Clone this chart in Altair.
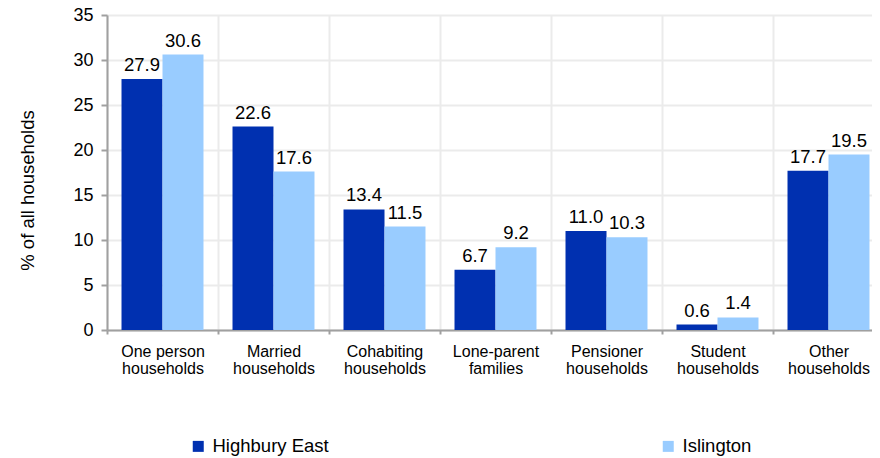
import altair as alt
import pandas as pd

categories = [
    "One person households",
    "Married households",
    "Cohabiting households",
    "Lone-parent families",
    "Pensioner households",
    "Student households",
    "Other households",
]
areas = ["Highbury East", "Islington"]
highbury_east = [27.9, 22.6, 13.4, 6.7, 11.0, 0.6, 17.7]
islington = [30.6, 17.6, 11.5, 9.2, 10.3, 1.4, 19.5]
y_ticks = [0, 5, 10, 15, 20, 25, 30, 35]

rows = []
for c, a, b in zip(categories, highbury_east, islington):
    rows.append({"category": c, "area": areas[0], "value": a})
    rows.append({"category": c, "area": areas[1], "value": b})
df = pd.DataFrame(rows)

FONT = "Liberation Sans, Arial, sans-serif"
DARK = "#0030B0"
LIGHT = "#99CCFF"

label_expr = (
    "[substring(datum.label, 0, lastindexof(datum.label, ' ')), "
    "substring(datum.label, lastindexof(datum.label, ' ') + 1)]"
)

x_enc = alt.X(
    "category:N",
    sort=categories,
    scale=alt.Scale(paddingInner=0, paddingOuter=0),
    axis=alt.Axis(
        title=None,
        labelAngle=0,
        labelExpr=label_expr,
        labelFontSize=16,
        labelLineHeight=17,
        labelPadding=9,
        labelColor="black",
        labelFont=FONT,
        labelLimit=300,
        tickBand="extent",
        tickSize=4,
        tickColor="#A0A0A0",
        tickWidth=2,
        domainColor="#A0A0A0",
        domainWidth=2,
        grid=True,
        gridColor="#EBEBEB",
        gridWidth=2,
    ),
)
xoff_enc = alt.XOffset(
    "area:N",
    sort=areas,
    scale=alt.Scale(paddingInner=0, paddingOuter=0.354),
)
y_enc = alt.Y(
    "value:Q",
    scale=alt.Scale(domain=[0, 35], nice=False),
    axis=alt.Axis(
        values=y_ticks,
        title="% of all households",
        titleFont=FONT,
        titleFontSize=18.5,
        titleFontWeight="normal",
        titleColor="black",
        titleX=-74,
        titleY=175,
        titleAngle=-90,
        titleBaseline="alphabetic",
        titleAlign="center",
        labelFontSize=18,
        labelFont=FONT,
        labelColor="black",
        labelPadding=8,
        tickSize=6,
        tickColor="#A0A0A0",
        tickWidth=2,
        domainColor="#A0A0A0",
        domainWidth=2,
        grid=True,
        gridColor="#EBEBEB",
        gridWidth=2,
    ),
)

base = alt.Chart(df).encode(x=x_enc, xOffset=xoff_enc, y=y_enc)

bars = base.mark_bar().encode(
    color=alt.Color(
        "area:N",
        scale=alt.Scale(domain=areas, range=[DARK, LIGHT]),
        legend=alt.Legend(
            title=None,
            orient="none",
            legendX=82,
            legendY=422,
            direction="horizontal",
            columns=2,
            columnPadding=330,
            symbolType="square",
            symbolSize=121,
            symbolStrokeWidth=0,
            labelFontSize=18.5,
            labelFont=FONT,
            labelColor="black",
            labelOffset=5,
        ),
    )
)

labels = base.mark_text(
    dy=-8, baseline="alphabetic", fontSize=18.5, font=FONT, color="black"
).encode(text=alt.Text("value:Q", format=".1f"))

chart = (
    alt.layer(bars, labels)
    .properties(
        width=777,
        height=315,
        autosize=alt.AutoSizeParams(type="none"),
        padding={"left": 99, "top": 7, "right": -12, "bottom": 128},
        background="white",
    )
    .configure_view(stroke=None)
)

chart.save("out.html", embed_options={"renderer": "svg", "actions": False})
